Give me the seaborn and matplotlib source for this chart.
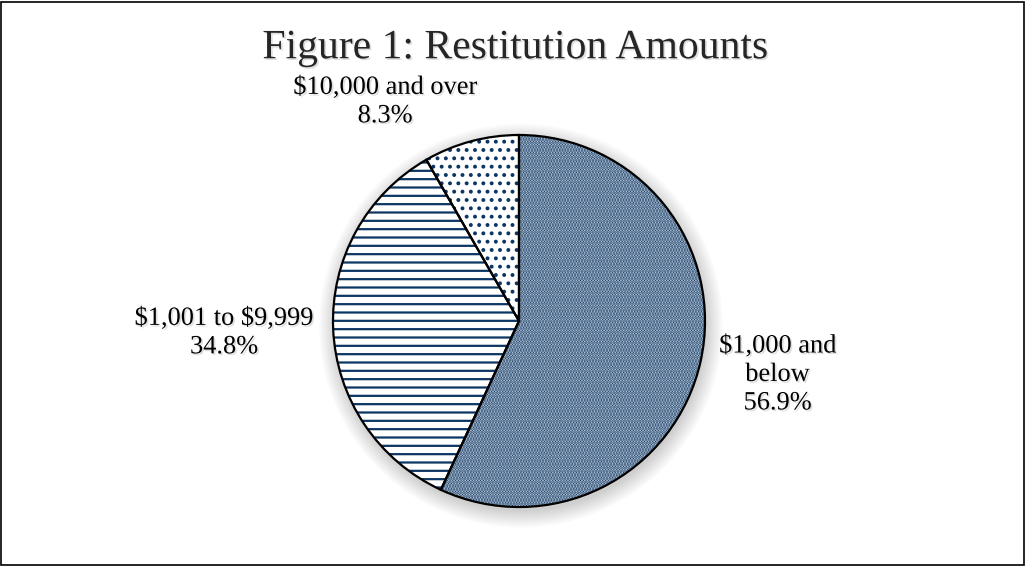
import matplotlib
matplotlib.use("Agg")
import matplotlib.pyplot as plt
import matplotlib.patheffects as pe
import seaborn as sns
from matplotlib.patches import Rectangle, Circle

# data
categories = ["$1,000 and\nbelow", "$1,001 to $9,999", "$10,000 and over"]
shares = [56.9, 34.8, 8.3]
hatches = ["......", "--", ".."]
face_colors = ["#e4e9ef", "white", "white"]

sns.set_theme(style="white")
plt.rcParams["font.family"] = ["Liberation Serif", "DejaVu Serif"]
plt.rcParams["hatch.linewidth"] = 1.6

navy = "#0b3563"
shadow = [pe.withSimplePatchShadow(offset=(1.2, -1.2), shadow_rgbFace="gray", alpha=0.25)]

fig = plt.figure(figsize=(10.26, 5.66), dpi=100)
ax = fig.add_axes([0, 0, 1, 1])

labels = [f"{c}\n{v:.1f}%" for c, v in zip(categories, shares)]

# soft drop shadow under the pie
for k in range(8):
    ax.add_patch(Circle((0.01, -0.025), 1.0 + 0.012 * k, color="black",
                        alpha=0.025, lw=0, zorder=0))

# hatched fill (hatch colour follows edge colour)
wedges, texts = ax.pie(shares, startangle=90, counterclock=False,
                       colors=face_colors, labels=labels, labeldistance=1.32,
                       wedgeprops=dict(edgecolor=navy, linewidth=0),
                       textprops=dict(fontsize=19, ha="center", va="center",
                                      color="black", parse_math=False))
for w, h in zip(wedges, hatches):
    w.set_hatch(h)

# black outlines on top
ax.pie(shares, startangle=90, counterclock=False,
       wedgeprops=dict(fill=False, edgecolor="black", linewidth=1.6))

# pie centre at pixel (519, 321), radius 186 px
r_px = 186.0
cx, cy = 519.0, 321.0
ax.set_xlim(-cx / r_px, (1026 - cx) / r_px)
ax.set_ylim(-(566 - cy) / r_px, cy / r_px)
ax.set_aspect("equal")
ax.axis("off")

# move labels to where the reference puts them
offsets = {0: (1.39, -0.29), 1: (-1.586, -0.065), 2: (-0.72, 1.177)}
for i, t in enumerate(texts):
    t.set_position(offsets[i])
    t.set_linespacing(1.38)
    t.set_path_effects(shadow)

fig.text(515 / 1026, 1 - 48 / 566, "Figure 1: Restitution Amounts",
         ha="center", va="center", fontsize=30, path_effects=shadow)

fig.patches.append(Rectangle((0.001, 0.002), 0.997, 0.994, transform=fig.transFigure,
                             fill=False, edgecolor="black", linewidth=1.2))

fig.savefig("out.png", dpi=100)
